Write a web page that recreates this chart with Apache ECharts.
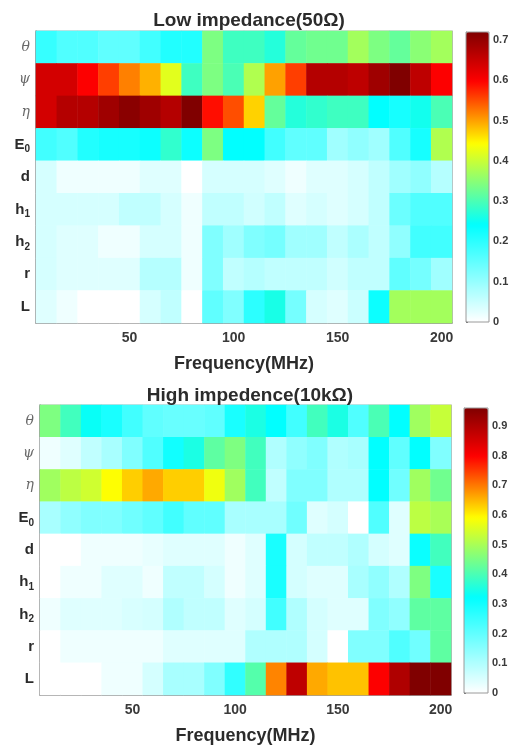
<!DOCTYPE html>
<html>
<head>
<meta charset="utf-8">
<script src="https://cdn.jsdelivr.net/npm/echarts@6/dist/echarts.min.js"></script>
<style>
  html, body { margin: 0; padding: 0; background: #fff; }
  #chart { width: 515px; height: 749px; }
</style>
</head>
<body>
<div id="chart"></div>
<script>
// Frequency bins (MHz), one heatmap column each
const freqs = [10, 20, 30, 40, 50, 60, 70, 80, 90, 100, 110, 120, 130, 140, 150, 160, 170, 180, 190, 200];
// Parameters, top row first
const params = ['θ', 'ψ', 'η', 'E0', 'd', 'h1', 'h2', 'r', 'L'];
const xTickLabels = [50, 100, 150, 200];

// Sensitivity, low impedance load (50 Ω)
const low_theta = [0.19, 0.165, 0.165, 0.15, 0.15, 0.18, 0.21, 0.21, 0.34, 0.29, 0.29, 0.27, 0.32, 0.33, 0.33, 0.37, 0.34, 0.32, 0.35, 0.37];
const low_psi   = [0.64, 0.64, 0.60, 0.56, 0.52, 0.49, 0.42, 0.29, 0.34, 0.30, 0.38, 0.50, 0.56, 0.67, 0.67, 0.66, 0.69, 0.72, 0.66, 0.60];
const low_eta   = [0.64, 0.67, 0.67, 0.69, 0.71, 0.69, 0.67, 0.72, 0.59, 0.55, 0.47, 0.32, 0.27, 0.28, 0.29, 0.29, 0.24, 0.22, 0.255, 0.30];
const low_E0    = [0.18, 0.165, 0.21, 0.22, 0.22, 0.23, 0.28, 0.23, 0.34, 0.24, 0.24, 0.18, 0.15, 0.15, 0.09, 0.105, 0.09, 0.165, 0.22, 0.38];
const low_d     = [0.04, 0.015, 0.015, 0.015, 0.015, 0.03, 0.03, 0.0, 0.04, 0.04, 0.04, 0.03, 0.015, 0.03, 0.03, 0.04, 0.06, 0.09, 0.105, 0.07];
const low_h1    = [0.04, 0.04, 0.04, 0.04, 0.06, 0.06, 0.04, 0.015, 0.06, 0.06, 0.045, 0.06, 0.03, 0.04, 0.03, 0.04, 0.06, 0.14, 0.165, 0.165];
const low_h2    = [0.04, 0.03, 0.03, 0.015, 0.015, 0.04, 0.04, 0.015, 0.12, 0.09, 0.12, 0.13, 0.09, 0.09, 0.06, 0.08, 0.06, 0.105, 0.18, 0.18];
const low_r     = [0.04, 0.03, 0.03, 0.03, 0.03, 0.07, 0.07, 0.015, 0.12, 0.06, 0.07, 0.06, 0.06, 0.06, 0.045, 0.06, 0.06, 0.15, 0.13, 0.09];
const low_L     = [0.03, 0.015, 0.0, 0.0, 0.0, 0.04, 0.06, 0.0, 0.15, 0.12, 0.20, 0.26, 0.13, 0.04, 0.03, 0.05, 0.23, 0.37, 0.37, 0.37];

// Sensitivity, high impedance load (10 kΩ)
const high_theta = [0.455, 0.39, 0.33, 0.29, 0.24, 0.20, 0.19, 0.19, 0.20, 0.29, 0.35, 0.32, 0.24, 0.39, 0.35, 0.22, 0.40, 0.32, 0.49, 0.53];
const high_psi   = [0.02, 0.04, 0.08, 0.11, 0.16, 0.22, 0.30, 0.35, 0.42, 0.455, 0.39, 0.10, 0.14, 0.16, 0.10, 0.11, 0.32, 0.20, 0.32, 0.16];
const high_eta   = [0.49, 0.52, 0.54, 0.59, 0.63, 0.66, 0.63, 0.63, 0.575, 0.49, 0.39, 0.08, 0.16, 0.16, 0.10, 0.10, 0.32, 0.18, 0.49, 0.44];
const high_E0    = [0.11, 0.14, 0.16, 0.16, 0.18, 0.20, 0.24, 0.20, 0.20, 0.11, 0.11, 0.11, 0.18, 0.04, 0.055, 0.0, 0.22, 0.04, 0.52, 0.50];
const high_d     = [0.0, 0.0, 0.02, 0.02, 0.02, 0.03, 0.04, 0.04, 0.04, 0.02, 0.04, 0.29, 0.055, 0.08, 0.08, 0.10, 0.055, 0.04, 0.31, 0.39];
const high_h1    = [0.0, 0.02, 0.02, 0.04, 0.04, 0.02, 0.08, 0.08, 0.055, 0.02, 0.04, 0.29, 0.055, 0.04, 0.04, 0.11, 0.14, 0.10, 0.455, 0.29];
const high_h2    = [0.02, 0.04, 0.04, 0.04, 0.05, 0.055, 0.10, 0.08, 0.08, 0.04, 0.055, 0.24, 0.10, 0.055, 0.04, 0.04, 0.16, 0.14, 0.42, 0.42];
const high_r     = [0.0, 0.02, 0.02, 0.02, 0.02, 0.02, 0.04, 0.04, 0.04, 0.04, 0.10, 0.10, 0.10, 0.055, 0.0, 0.16, 0.16, 0.22, 0.18, 0.42];
const high_L     = [0.0, 0.0, 0.0, 0.02, 0.02, 0.055, 0.11, 0.11, 0.16, 0.26, 0.41, 0.69, 0.88, 0.66, 0.64, 0.64, 0.80, 0.90, 0.96, 0.96];

// Colour scale ranges and colourbar tick labels
const lowRange = [0, 0.72];
const highRange = [0, 0.96];
const lowBarTicks = [0, 0.1, 0.2, 0.3, 0.4, 0.5, 0.6, 0.7];
const highBarTicks = [0, 0.1, 0.2, 0.3, 0.4, 0.5, 0.6, 0.7, 0.8, 0.9];

const lowRows = [low_theta, low_psi, low_eta, low_E0, low_d, low_h1, low_h2, low_r, low_L];
const highRows = [high_theta, high_psi, high_eta, high_E0, high_d, high_h1, high_h2, high_r, high_L];

function toCells(rows) {
  const out = [];
  rows.forEach((row, yi) => row.forEach((v, xi) => out.push([xi, yi, v])));
  return out;
}

// White -> cyan -> yellow -> red -> dark red
const cmapStops = [[0, [255, 255, 255]], [0.335, [0, 255, 255]], [0.615, [255, 255, 0]], [0.83, [255, 0, 0]], [1, [128, 0, 0]]];
function buildColormap(n) {
  const cols = [];
  for (let i = 0; i < n; i++) {
    const t = i / (n - 1);
    let k = 0;
    while (k < cmapStops.length - 2 && t > cmapStops[k + 1][0]) k++;
    const [t0, c0] = cmapStops[k], [t1, c1] = cmapStops[k + 1];
    const f = (t - t0) / (t1 - t0);
    const c = c0.map((a, j) => Math.round(a + (c1[j] - a) * f));
    cols.push('rgb(' + c.join(',') + ')');
  }
  return cols;
}
const cmap = buildColormap(121);

const FONT = '"Liberation Sans", Arial, sans-serif';
const TXT = '#2b2b2b';

const richLabels = {
  b: { fontFamily: FONT, fontWeight: 'bold', fontSize: 15, color: TXT, lineHeight: 18 },
  s: { fontFamily: FONT, fontWeight: 'bold', fontSize: 10, color: TXT, lineHeight: 18, padding: [10, 0, 0, 0] },
  g: { fontFamily: '"DejaVu Serif", serif', fontStyle: 'italic', fontSize: 14, color: '#6a6a6a', lineHeight: 18 }
};
function paramLabel(v) {
  if (v === 'θ' || v === 'ψ' || v === 'η') return '{g|' + v + '}';
  if (v.length === 2) return '{b|' + v[0] + '}{s|' + v[1] + '}';
  return '{b|' + v + '}';
}

const showTick = (idx, val) => xTickLabels.indexOf(Number(val)) >= 0;

function xAxes(gridIndex) {
  const base = {
    type: 'category', gridIndex, data: freqs,
    axisLine: { lineStyle: { color: '#8a8a8a', width: 1.5 } },
    splitLine: { show: false }
  };
  return [
    Object.assign({}, base, {
      position: 'bottom',
      axisTick: { inside: true, length: 3, alignWithLabel: true, interval: showTick, lineStyle: { color: '#555' } },
      axisLabel: { interval: showTick, fontFamily: FONT, fontWeight: 'bold', fontSize: 14, color: '#3a3a3a', margin: 8 },
      name: 'Frequency(MHz)', nameLocation: 'middle', nameGap: 32,
      nameTextStyle: { fontFamily: FONT, fontWeight: 'bold', fontSize: 18, color: TXT }
    }),
    Object.assign({}, base, {
      position: 'top',
      axisLine: { lineStyle: { color: '#b5b5b5', width: 1 } },
      axisTick: { inside: true, length: 3, alignWithLabel: true, interval: showTick, lineStyle: { color: '#555' } },
      axisLabel: { show: false }
    })
  ];
}
function yAxes(gridIndex) {
  const base = { type: 'category', gridIndex, data: params, inverse: true, splitLine: { show: false } };
  return [
    Object.assign({}, base, {
      position: 'left',
      axisLine: { lineStyle: { color: '#8a8a8a', width: 1.5 } },
      axisTick: { inside: true, length: 3, alignWithLabel: true, lineStyle: { color: '#555' } },
      axisLabel: { formatter: paramLabel, rich: richLabels, margin: 6 }
    }),
    Object.assign({}, base, {
      position: 'right',
      axisLine: { lineStyle: { color: '#b5b5b5', width: 1 } },
      axisTick: { inside: true, length: 3, alignWithLabel: true, lineStyle: { color: '#555' } },
      axisLabel: { show: false }
    })
  ];
}
function barAxis(gridIndex, range, ticks) {
  return {
    type: 'value', gridIndex, min: range[0], max: range[1], position: 'right',
    splitLine: { show: false },
    axisLine: { show: true, lineStyle: { color: '#9a9a9a', width: 1 } },
    axisTick: { show: true, inside: false, length: 2, customValues: ticks, lineStyle: { color: '#666' } },
    axisLabel: { customValues: ticks, fontFamily: FONT, fontWeight: 'bold', fontSize: 11, color: '#3a3a3a', margin: 4 }
  };
}

const chart = echarts.init(document.getElementById('chart'), null, { renderer: 'canvas' });
chart.setOption({
  animation: false,
  backgroundColor: '#fff',
  title: [
    { text: 'Low impedance(50Ω)', left: 244, top: 6, textAlign: 'center',
      textStyle: { fontFamily: FONT, fontWeight: 'bold', fontSize: 19, color: TXT } },
    { text: 'High impedence(10kΩ)', left: 245, top: 381, textAlign: 'center',
      textStyle: { fontFamily: FONT, fontWeight: 'bold', fontSize: 19, color: TXT } }
  ],
  grid: [
    { left: 36, top: 31, width: 416, height: 292, show: true, borderColor: '#b5b5b5', borderWidth: 1 },
    { left: 40, top: 405, width: 411, height: 290, show: true, borderColor: '#b5b5b5', borderWidth: 1 },
    { left: 466, top: 32, width: 23, height: 290, show: true, borderColor: '#9a9a9a', borderWidth: 1, z: 10 },
    { left: 464, top: 408, width: 24, height: 285, show: true, borderColor: '#9a9a9a', borderWidth: 1, z: 10 }
  ],
  xAxis: [
    ...xAxes(0), ...xAxes(1),
    { type: 'value', gridIndex: 2, show: false },
    { type: 'value', gridIndex: 3, show: false }
  ],
  yAxis: [
    ...yAxes(0), ...yAxes(1),
    barAxis(2, lowRange, lowBarTicks),
    barAxis(3, highRange, highBarTicks)
  ],
  visualMap: [
    { type: 'continuous', seriesIndex: 0, min: lowRange[0], max: lowRange[1], inRange: { color: cmap },
      left: 466, top: 32, itemWidth: 23, itemHeight: 290, calculable: false, padding: 0, hoverLink: false },
    { type: 'continuous', seriesIndex: 1, min: highRange[0], max: highRange[1], inRange: { color: cmap },
      left: 464, top: 408, itemWidth: 24, itemHeight: 285, calculable: false, padding: 0, hoverLink: false }
  ],
  series: [
    { type: 'heatmap', xAxisIndex: 0, yAxisIndex: 0, data: toCells(lowRows), emphasis: { disabled: true }, z: 1 },
    { type: 'heatmap', xAxisIndex: 2, yAxisIndex: 2, data: toCells(highRows), emphasis: { disabled: true }, z: 1 }
  ]
});
</script>
</body>
</html>
